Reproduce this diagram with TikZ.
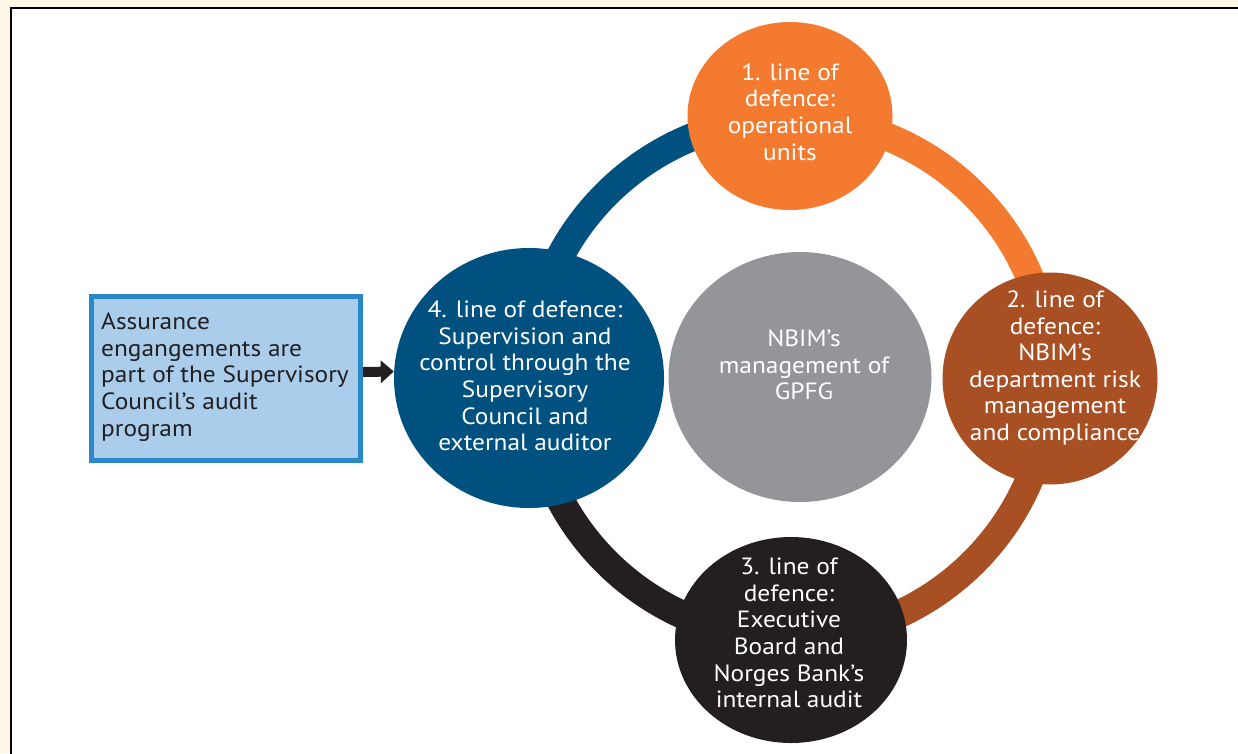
\documentclass[tikz,border=0pt]{standalone}
\usepackage{fontspec}
\setmainfont{PT Sans}[FakeStretch=1.08]
\usetikzlibrary{shapes.geometric,arrows.meta}
\definecolor{cream}{HTML}{FFF7E6}
\definecolor{lodorange}{HTML}{F37A2E}
\definecolor{lodrust}{HTML}{A84F23}
\definecolor{lodblack}{HTML}{231F20}
\definecolor{lodblue}{HTML}{00517F}
\definecolor{lodgray}{HTML}{939598}
\definecolor{boxfill}{HTML}{A9CDEB}
\definecolor{boxline}{HTML}{2A87C8}
\tikzset{
  ringarc/.style={line width=28pt},
  disc/.style={ellipse, inner sep=0pt, draw=none},
  disctext/.style={text=white, align=center, inner sep=0pt,
    font=\fontsize{23.5}{26.6}\selectfont},
  boxtext/.style={text=lodblack, align=left, inner sep=0pt, anchor=west,
    font=\fontsize{23.5}{26.6}\selectfont},
  bigarrow/.style={lodblack, line width=10pt, -{Triangle[length=13pt,width=22pt]}}
}
\begin{document}
\begin{tikzpicture}[x=1pt,y=-1pt]
\useasboundingbox (0,0) rectangle (1238,753);
\clip (0,0) rectangle (1238,753);
\fill[cream] (0,0) rectangle (1238,753);
\draw[line width=2pt, fill=white] (11,8) rectangle (1260,780);

% ring arcs (behind the discs)
\coordinate (ring) at (790,378);
\draw[ringarc, lodblue]   (ring) ++(270:260) arc[start angle=270, end angle=180, radius=260];
\draw[ringarc, lodorange] (ring) ++(270:260) arc[start angle=270, end angle=360, radius=260];
\draw[ringarc, lodrust]   (ring) ++(0:260) arc[start angle=0, end angle=90, radius=260];
\draw[ringarc, lodblack]  (ring) ++(90:260) arc[start angle=90, end angle=180, radius=260];

% discs
\node[disc, fill=lodorange, minimum width=205pt, minimum height=188pt] (top) at (790,116) {};
\node[disc, fill=lodrust, minimum width=215pt, minimum height=212pt] (right) at (1050,378.5) {};
\node[disc, fill=lodblack, minimum width=232pt, minimum height=206pt] (bottom) at (791,640) {};
\node[disc, fill=lodblue, minimum width=270pt, minimum height=260pt] (left) at (529,378) {};
\node[disc, fill=lodgray, minimum width=263pt, minimum height=250pt] (centre) at (800,377) {};

% texts
\node[disctext] (toptxt) at (790,112) {1. line of\\defence:\\operational\\units};
\node[disctext] (righttxt) at (1055,368) {2. line of\\defence:\\NBIM’s\\department risk\\management\\and compliance};
\node[disctext] (bottomtxt) at (789,633) {3. line of\\defence:\\Executive\\Board and\\Norges Bank’s\\internal audit};
\node[disctext] (lefttxt) at (525,376) {4. line of defence:\\Supervision and\\control through the\\Supervisory\\Council and\\external auditor};
\node[disctext] (centretxt) at (804,365) {NBIM’s\\management of\\GPFG};

% assurance box
\node[draw=boxline, line width=5pt, fill=boxfill, minimum width=269pt, minimum height=164pt, inner sep=0pt] (box) at (226,378.5) {};
\node[boxtext] (boxtxt) at (101,377) {Assurance\\engangements are\\part of the Supervisory\\Council’s audit\\program};

\draw[bigarrow] ([yshift=6.5pt]box.east) -- ([yshift=6.5pt]left.west);
\end{tikzpicture}
\end{document}
